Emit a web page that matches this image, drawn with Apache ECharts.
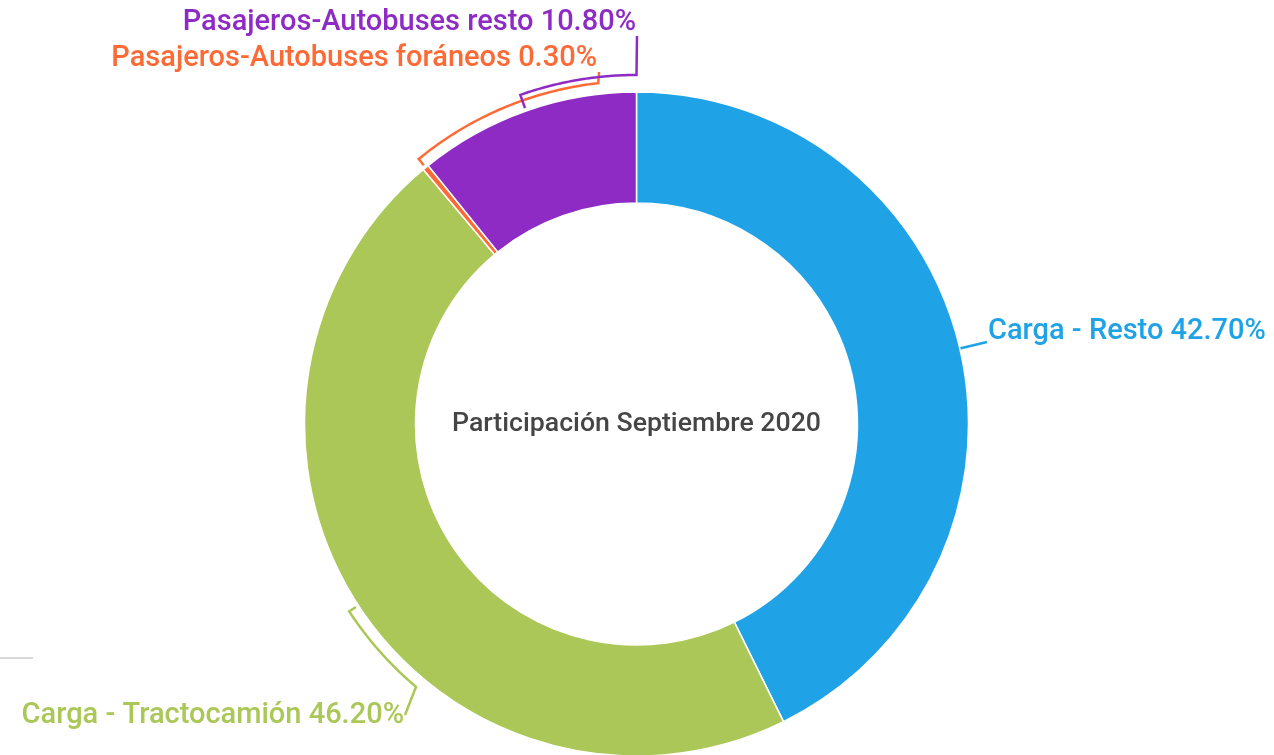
<!DOCTYPE html>
<html>
<head>
<meta charset="utf-8">
<script src="https://cdn.jsdelivr.net/npm/echarts@6/dist/echarts.min.js"></script>
<style>
  html, body { margin: 0; padding: 0; background: #fff; }
  #grafica { width: 1274px; height: 755px; }
</style>
</head>
<body>
<div id="grafica"></div>
<script>
// datos
var categorias = ['Carga - Resto', 'Carga - Tractocamión', 'Pasajeros-Autobuses foráneos', 'Pasajeros-Autobuses resto'];
var participacion = [42.7, 46.2, 0.3, 10.8];
var colores = ['#20a3e6', '#abc758', '#fe6a35', '#8f2bc5'];
var titulo = 'Participación Septiembre 2020';

// geometria del anillo
var cx = 636.5, cy = 424, rExt = 332, rInt = 221;

// donde va cada etiqueta y como se curva su linea
var etiquetas = [
    { x: 988, y: 332, align: 'left', arcoR: 332, finAng: null, fin: [987, 342] },
    { x: 404, y: 716, align: 'right', arcoR: 343, finAng: 230, fin: [405, 715] },
    { x: 597, y: 59, align: 'right', arcoR: 343, finAng: 96.4, fin: [599, 72] },
    { x: 636, y: 23, align: 'right', arcoR: 349, finAng: 90, fin: [637, 36] }
];

var total = participacion.reduce(function (a, b) { return a + b; }, 0);
var angMedio = [];
var acum = 0;
participacion.forEach(function (v) {
    var medio = acum + v / 2;
    // angulo estandar (grados, antihorario desde +x), empezando arriba y girando horario
    angMedio.push(90 - medio / total * 360);
    acum += v;
});
angMedio = angMedio.map(function (a) { return a < 0 ? a + 360 : a; });

function punto(ang, r) {
    var rad = ang * Math.PI / 180;
    return [cx + r * Math.cos(rad), cy - r * Math.sin(rad)];
}

function lineaEtiqueta(i) {
    var e = etiquetas[i];
    var a0 = angMedio[i];
    var pts = [punto(a0, e.arcoR === rExt ? rExt : rExt + 3), punto(a0, e.arcoR)];
    if (e.finAng !== null) {
        var pasos = 40;
        for (var k = 1; k <= pasos; k++) {
            pts.push(punto(a0 + (e.finAng - a0) * k / pasos, e.arcoR));
        }
    }
    pts.push(e.fin);
    return pts;
}

var chart = echarts.init(document.getElementById('grafica'));

var option = {
    animation: false,
    title: {
        text: titulo,
        left: cx,
        top: cy,
        textAlign: 'center',
        textVerticalAlign: 'middle',
        padding: 0,
        textStyle: { fontFamily: 'Roboto', fontSize: 26.7, fontWeight: 500, color: '#454545' }
    },
    graphic: [{
        type: 'line',
        shape: { x1: 0, y1: 658, x2: 33, y2: 658 },
        style: { stroke: '#d9d9d9', lineWidth: 2 }
    }],
    series: [{
        type: 'pie',
        center: [cx, cy],
        radius: [rInt, rExt],
        startAngle: 90,
        clockwise: true,
        avoidLabelOverlap: false,
        itemStyle: { borderColor: '#ffffff', borderWidth: 1.5 },
        label: {
            show: true,
            position: 'outside',
            fontFamily: 'Roboto',
            fontSize: 29,
            fontWeight: 500,
            formatter: function (p) { return p.name + ' ' + p.percent.toFixed(2) + '%'; }
        },
        labelLine: { show: true, lineStyle: { width: 2.5 } },
        labelLayout: function (params) {
            var e = etiquetas[params.dataIndex];
            return {
                x: e.x,
                y: e.y,
                align: e.align,
                verticalAlign: 'middle',
                labelLinePoints: lineaEtiqueta(params.dataIndex)
            };
        },
        data: categorias.map(function (c, i) {
            return {
                name: c,
                value: participacion[i],
                itemStyle: { color: colores[i] },
                label: { color: colores[i] },
                labelLine: { lineStyle: { color: colores[i], width: 2.5 } }
            };
        })
    }]
};

chart.setOption(option);
</script>
</body>
</html>
